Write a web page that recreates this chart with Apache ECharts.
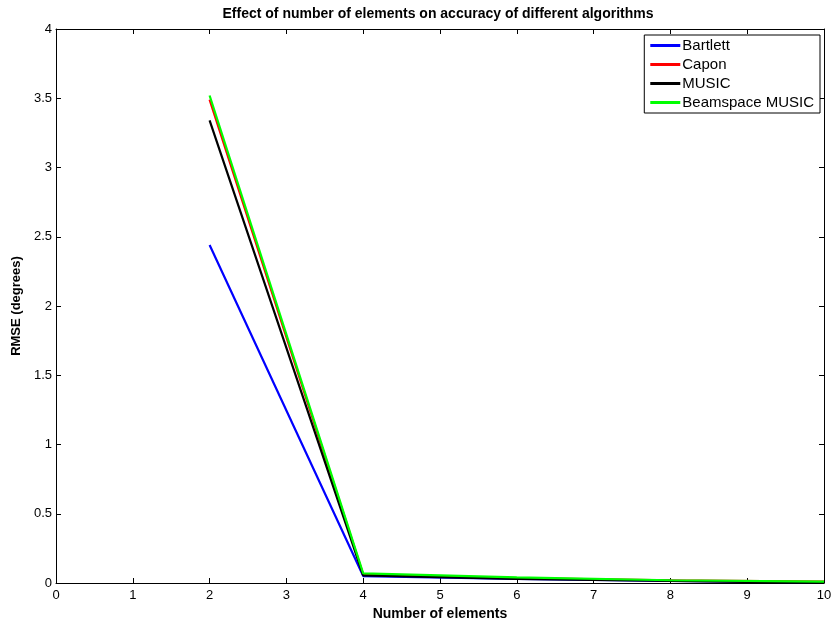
<!DOCTYPE html>
<html><head><meta charset="utf-8">
<script src="https://cdn.jsdelivr.net/npm/echarts@6/dist/echarts.min.js"></script>
<style>html,body{margin:0;padding:0;background:#fff}#c{width:831px;height:621px}</style>
</head><body><div id="c"></div>
<script>
var xValues = [2, 4, 6, 8, 10];
var bartlett = [2.44, 0.05, 0.03, 0.015, 0.005];
var capon = [3.49, 0.06, 0.035, 0.02, 0.01];
var music = [3.34, 0.055, 0.03, 0.015, 0.0];
var beamspace = [3.52, 0.07, 0.04, 0.02, 0.01];
var seriesNames = ['Bartlett', 'Capon', 'MUSIC', 'Beamspace MUSIC'];
var seriesColors = ['#0000ff', '#ff0000', '#000000', '#00ff00'];
var seriesData = [bartlett, capon, music, beamspace];

var font = 'Liberation Sans, Arial, sans-serif';
var chart = echarts.init(document.getElementById('c'));
var series = seriesData.map(function (d, i) {
  return {
    name: seriesNames[i], type: 'line', xAxisIndex: 0, yAxisIndex: 0,
    data: d.map(function (v, j) { return [xValues[j], v]; }),
    symbol: 'none', lineStyle: { width: 2.2, color: seriesColors[i] },
    itemStyle: { color: seriesColors[i] }, z: 2 + i, animation: false
  };
});
function axisCommon(show) {
  return {
    axisLine: { show: true, onZero: false, lineStyle: { color: '#000', width: 1 } },
    axisTick: { show: true, inside: true, length: 5, lineStyle: { color: '#000' } },
    splitLine: { show: false },
    axisLabel: { show: show, color: '#000', fontFamily: font, fontSize: 13 }
  };
}
chart.setOption({
  animation: false,
  title: {
    text: 'Effect of number of elements on accuracy of different algorithms',
    left: 433, top: 2, textAlign: 'center',
    textStyle: { fontFamily: font, fontSize: 14, fontWeight: 'bold', color: '#000' }
  },
  grid: { left: 56, right: 7, top: 29, bottom: 38, containLabel: false, outerBoundsMode: 'none' },
  legend: {
    orient: 'vertical', right: 11, top: 35,
    backgroundColor: '#fff', borderColor: '#000', borderWidth: 1,
    padding: [3, 6, 3, 6], itemGap: 4,
    itemWidth: 30, itemHeight: 3, icon: 'rect',
    textStyle: { fontFamily: font, fontSize: 15, color: '#000', padding: [0, 0, 0, -3] },
    data: seriesNames
  },
  xAxis: [
    Object.assign(axisCommon(true), {
      type: 'value', min: 0, max: 10, interval: 1, position: 'bottom',
      name: 'Number of elements', nameLocation: 'middle', nameGap: 23,
      nameTextStyle: { fontFamily: font, fontSize: 14, fontWeight: 'bold', color: '#000' },
      axisLabel: { color: '#000', fontFamily: font, fontSize: 13, margin: 6 }
    }),
    Object.assign(axisCommon(false), { type: 'value', min: 0, max: 10, interval: 1, position: 'top' })
  ],
  yAxis: [
    Object.assign(axisCommon(true), {
      type: 'value', min: 0, max: 4, interval: 0.5, position: 'left',
      name: 'RMSE (degrees)', nameLocation: 'middle', nameGap: 31, nameRotate: 90,
      nameTextStyle: { fontFamily: font, fontSize: 13, fontWeight: 'bold', color: '#000' },
      axisLabel: { color: '#000', fontFamily: font, fontSize: 13, margin: 4 }
    }),
    Object.assign(axisCommon(false), { type: 'value', min: 0, max: 4, interval: 0.5, position: 'right' })
  ],
  series: series
});
</script></body></html>
